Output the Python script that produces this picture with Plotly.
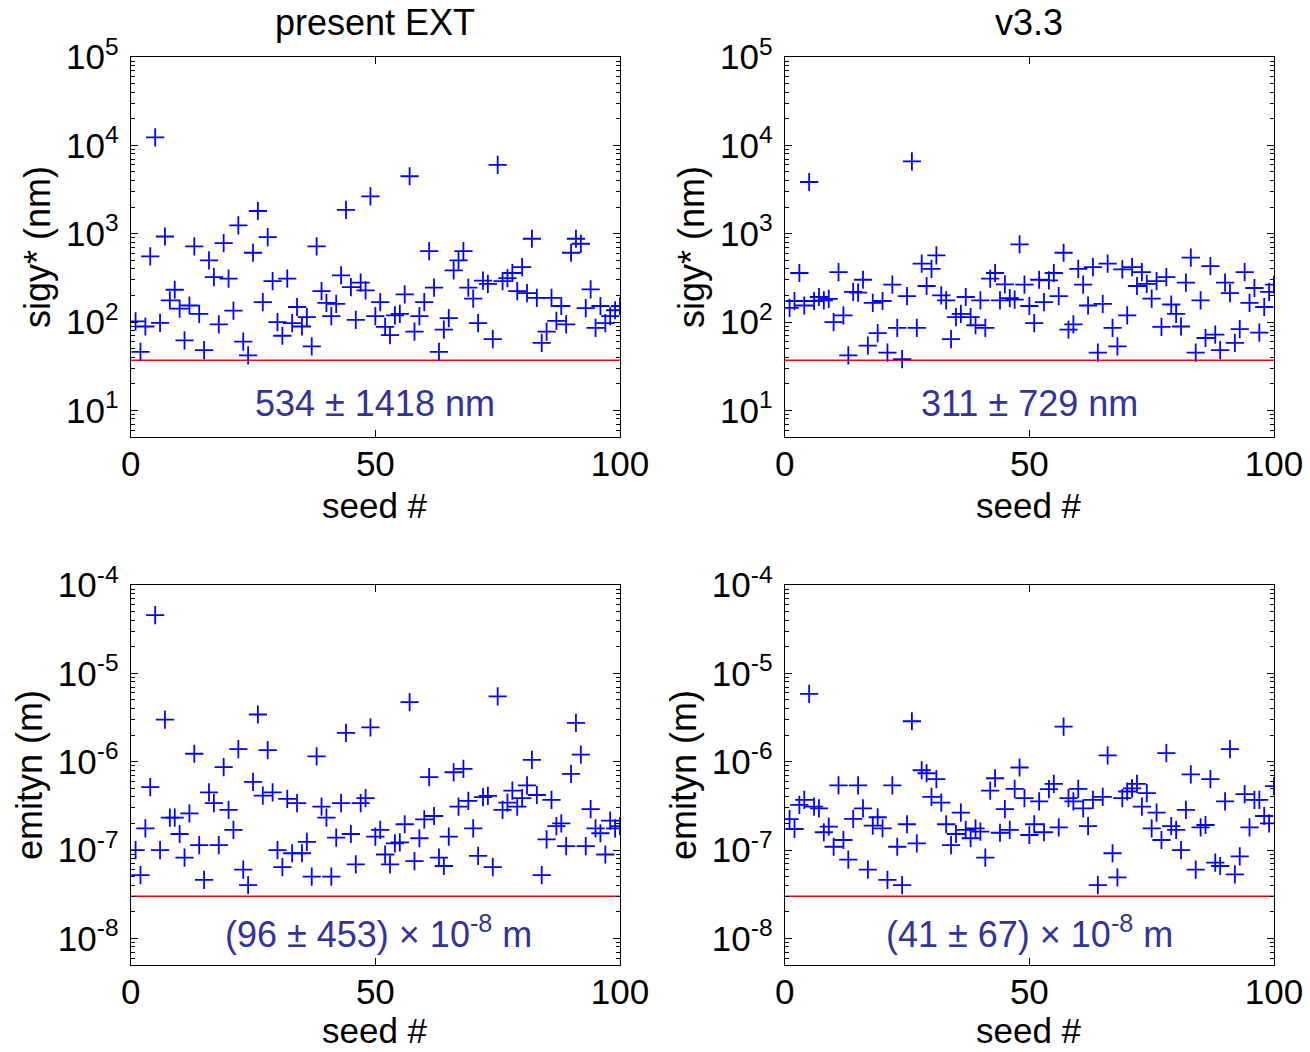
import plotly.graph_objects as go

seeds = list(range(1, 101))

sigy_ext = [102, 46, 89, 553, 12300, 98, 930, 176, 232, 142,
            62, 154, 720, 124, 48, 500, 323, 94, 783, 310,
            135, 1242, 60, 42, 609, 1808, 168, 916, 291, 100,
            70, 310, 97, 148, 89, 114, 53, 720, 224, 165,
            117, 161, 337, 1865, 249, 106, 279, 228, 2640, 117,
            168, 88, 71, 119, 124, 206, 4470, 78, 117, 168,
            635, 245, 46, 82, 111, 385, 500, 635, 245, 184,
            97, 295, 271, 64, 6000, 291, 315, 359, 224, 419,
            213, 877, 188, 58, 78, 188, 103, 152, 94, 609,
            877, 770, 144, 234, 86, 152, 97, 117, 136, 152]

sigy_v33 = [145, 173, 359, 154, 3850, 173, 192, 176, 183, 100,
            368, 119, 42, 219, 215, 301, 54, 165, 75, 173,
            45, 265, 86, 38, 197, 6600, 86, 458, 256, 400,
            569, 200, 176, 64, 114, 124, 192, 114, 92, 176,
            86, 310, 359, 176, 267, 187, 179, 757, 265, 152,
            97, 301, 168, 296, 359, 197, 609, 82, 94, 400,
            265, 154, 419, 45, 161, 458, 86, 53, 395, 119,
            419, 256, 368, 271, 184, 291, 88, 323, 158, 124,
            89, 279, 535, 45, 176, 66, 430, 72, 48, 279,
            213, 58, 83, 368, 165, 243, 76, 148, 219, 265]

emit_ext = [1.0e-7, 5.2e-8, 1.76e-7, 5.15e-7, 4.57e-5, 1.0e-7, 3.0e-6, 2.33e-7, 2.33e-7, 1.52e-7,
            8.2e-8, 2.6e-7, 1.23e-6, 1.14e-7, 4.6e-8, 4.5e-7, 3.39e-7, 1.14e-7, 8.7e-7, 2.85e-7,
            1.69e-7, 1.39e-6, 6.0e-8, 4.0e-8, 5.9e-7, 3.42e-6, 4.14e-7, 1.35e-6, 4.5e-7, 1.0e-7,
            6.4e-8, 3.8e-7, 9.2e-8, 3.4e-7, 9.2e-8, 1.24e-7, 5.0e-8, 1.15e-6, 3.1e-7, 2.33e-7,
            5.0e-8, 1.38e-7, 3.4e-7, 2.12e-6, 1.52e-7, 6.9e-8, 3.4e-7, 3.87e-7, 2.45e-6, 1.42e-7,
            1.69e-7, 8.9e-8, 6.9e-8, 1.19e-7, 1.22e-7, 1.96e-7, 4.72e-6, 7.5e-8, 1.36e-7, 2.23e-7,
            6.7e-7, 2.43e-7, 8.2e-8, 6.6e-8, 1.42e-7, 7.6e-7, 3.1e-7, 8.3e-7, 3.6e-7, 1.76e-7,
            8.6e-8, 3.98e-7, 4.1e-7, 6.4e-8, 5.5e-6, 2.85e-7, 3.45e-7, 4.7e-7, 3.1e-7, 3.87e-7,
            5.4e-7, 1.05e-6, 4.2e-7, 5.2e-8, 1.32e-7, 3.7e-7, 1.87e-7, 2.0e-7, 1.11e-7, 7.3e-7,
            2.75e-6, 1.2e-6, 1.11e-7, 2.9e-7, 1.76e-7, 1.55e-7, 8.9e-8, 2.15e-7, 1.76e-7, 1.87e-7]

emit_v33 = [2.24e-7, 1.73e-7, 3.24e-7, 3.7e-7, 5.87e-6, 3.1e-7, 2.97e-7, 1.59e-7, 1.84e-7, 1.09e-7,
            5.4e-7, 1.3e-7, 7.8e-8, 2.25e-7, 5.4e-7, 2.97e-7, 6.0e-8, 1.89e-7, 2.35e-7, 1.76e-7,
            4.6e-8, 5.4e-7, 1.09e-7, 4.0e-8, 1.96e-7, 2.87e-6, 1.19e-7, 8.0e-7, 7.4e-7, 4.0e-7,
            6.35e-7, 3.45e-7, 1.96e-7, 1.14e-7, 1.52e-7, 2.65e-7, 1.69e-7, 1.36e-7, 1.76e-7, 1.62e-7,
            8.2e-8, 4.7e-7, 6.5e-7, 1.57e-7, 2.9e-7, 1.69e-7, 4.93e-7, 8.6e-7, 3.87e-7, 1.48e-7,
            1.96e-7, 3.55e-7, 1.59e-7, 4.9e-7, 5.6e-7, 1.81e-7, 2.5e-6, 3.87e-7, 3.55e-7, 4.93e-7,
            2.97e-7, 1.87e-7, 3.7e-7, 4.0e-8, 4.0e-7, 1.18e-6, 9.2e-8, 4.9e-8, 3.87e-7, 4.6e-7,
            5.0e-7, 5.6e-7, 3.1e-7, 4.4e-7, 1.76e-7, 2.65e-7, 1.3e-7, 1.25e-6, 1.87e-7, 1.69e-7,
            1.0e-7, 2.85e-7, 7.2e-7, 6.0e-8, 1.81e-7, 1.92e-7, 6.35e-7, 7.2e-8, 6.6e-8, 3.55e-7,
            1.39e-6, 5.3e-8, 8.5e-8, 4.3e-7, 1.81e-7, 3.7e-7, 3.7e-7, 2.43e-7, 2.0e-7, 5.3e-7]

sigy_limit = 37
emit_limit = 3e-8
line_x = [0, 100]

panel_titles = ["present EXT", "v3.3"]
sigy_label = "sigy* (nm)"
emit_label = "emityn (m)"
x_label = "seed #"
stats_text = ["534 ± 1418 nm", "311 ± 729 nm",
              "(96 ± 453) × 10<sup>-8</sup> m", "(41 ± 67) × 10<sup>-8</sup> m"]

sigy_tickvals = [1e1, 1e2, 1e3, 1e4, 1e5]
sigy_ticktext = ["10<sup>1</sup>", "10<sup>2</sup>", "10<sup>3</sup>", "10<sup>4</sup>", "10<sup>5</sup>"]
emit_tickvals = [1e-8, 1e-7, 1e-6, 1e-5, 1e-4]
emit_ticktext = ["10<sup>-8</sup>", "10<sup>-7</sup>", "10<sup>-6</sup>", "10<sup>-5</sup>", "10<sup>-4</sup>"]
x_tickvals = [0, 50, 100]

FONT = "Liberation Sans, Arial, sans-serif"
W, H = 1310, 1052
TXT = 35

def minor_vals(lo_exp, hi_exp, lo_val, hi_val):
    out = []
    for e in range(lo_exp, hi_exp + 1):
        for m in range(2, 10):
            v = m * 10 ** e
            if lo_val <= v <= hi_val:
                out.append(v)
    return out

fig = go.Figure()

panels = [
    dict(y=sigy_ext, xa="x", ya="y", lim=sigy_limit),
    dict(y=sigy_v33, xa="x2", ya="y2", lim=sigy_limit),
    dict(y=emit_ext, xa="x3", ya="y3", lim=emit_limit),
    dict(y=emit_v33, xa="x4", ya="y4", lim=emit_limit),
]

for p in panels:
    fig.add_trace(go.Scatter(
        x=line_x, y=[p["lim"], p["lim"]], mode="lines",
        line=dict(color="#ff0000", width=1.5),
        xaxis=p["xa"], yaxis=p["ya"], showlegend=False, hoverinfo="skip"))
    fig.add_trace(go.Scatter(
        x=seeds, y=p["y"], mode="markers",
        marker=dict(symbol="cross-thin", size=13, line=dict(color="#0000ff", width=1.8)),
        xaxis=p["xa"], yaxis=p["ya"], showlegend=False))

def dx(a, b):
    return [a / W, b / W]

def dy(top, bottom):
    return [(H - bottom) / H, (H - top) / H]

xdoms = [dx(130.7, 620), dx(784.7, 1274)]
ydoms = [dy(57, 437), dy(585, 965)]

axis_common = dict(showline=True, linecolor="black", linewidth=1.2, mirror="ticks",
                   ticks="inside", ticklen=7, tickwidth=1, tickcolor="black",
                   showgrid=False, zeroline=False, automargin=False,
                   tickfont=dict(family=FONT, size=TXT, color="black"))

layout = dict(width=W, height=H, margin=dict(l=0, r=0, t=0, b=0, pad=0, autoexpand=False),
              paper_bgcolor="white", plot_bgcolor="white",
              font=dict(family=FONT, color="black"))

names = [("xaxis", "yaxis", "y", "x"), ("xaxis2", "yaxis2", "y2", "x2"),
         ("xaxis3", "yaxis3", "y3", "x3"), ("xaxis4", "yaxis4", "y4", "x4")]

sigy_minor = minor_vals(0, 4, 5, 1e5)
emit_minor = minor_vals(-9, -5, 5e-9, 1e-4)

for i, (xn, yn, yref, xref) in enumerate(names):
    col = i % 2
    row = i // 2
    layout[xn] = dict(axis_common, domain=xdoms[col], anchor=yref, range=[0, 100],
                      tickmode="array", tickvals=x_tickvals, ticklabelstandoff=-4)
    if row == 0:
        layout[yn] = dict(axis_common, domain=ydoms[row], anchor=xref, type="log",
                          range=[0.69897, 5], tickmode="array",
                          tickvals=sigy_tickvals, ticktext=sigy_ticktext,
                          minor=dict(tickmode="array", tickvals=sigy_minor, ticks="inside",
                                     ticklen=4, tickcolor="black", tickwidth=1),
                          ticklabelstandoff=4)
    else:
        layout[yn] = dict(axis_common, domain=ydoms[row], anchor=xref, type="log",
                          range=[-8.30103, -4], tickmode="array",
                          tickvals=emit_tickvals, ticktext=emit_ticktext,
                          minor=dict(tickmode="array", tickvals=emit_minor, ticks="inside",
                                     ticklen=4, tickcolor="black", tickwidth=1),
                          ticklabelstandoff=4)

annotations = []
for col, t in enumerate(panel_titles):
    cx = (xdoms[col][0] + xdoms[col][1]) / 2
    annotations.append(dict(text=t, x=cx, y=(H - 22) / H, xref="paper", yref="paper",
                            showarrow=False, font=dict(family=FONT, size=36, color="black"),
                            xanchor="center", yanchor="middle"))
for row, yc in enumerate([505, 1030]):
    for col in range(2):
        cx = (xdoms[col][0] + xdoms[col][1]) / 2
        annotations.append(dict(text=x_label, x=cx, y=(H - yc) / H, xref="paper", yref="paper",
                                showarrow=False, font=dict(family=FONT, size=35, color="black"),
                                xanchor="center", yanchor="middle"))
ylab_pos = [(38, 247, sigy_label), (692, 247, sigy_label), (30, 775, emit_label), (684, 775, emit_label)]
for (xc, yc, t) in ylab_pos:
    annotations.append(dict(text=t, x=xc / W, y=(H - yc) / H, xref="paper", yref="paper",
                            showarrow=False, textangle=-90,
                            font=dict(family=FONT, size=36, color="black"),
                            xanchor="center", yanchor="middle"))
stat_pos = [(375, 403), (1029, 403), (378, 932), (1029, 932)]
for (xc, yc), t in zip(stat_pos, stats_text):
    annotations.append(dict(text=t, x=xc / W, y=(H - yc) / H, xref="paper", yref="paper",
                            showarrow=False, font=dict(family=FONT, size=36, color="#333399"),
                            xanchor="center", yanchor="middle"))

layout["annotations"] = annotations
fig.update_layout(**layout)
fig.write_html("out.html")
